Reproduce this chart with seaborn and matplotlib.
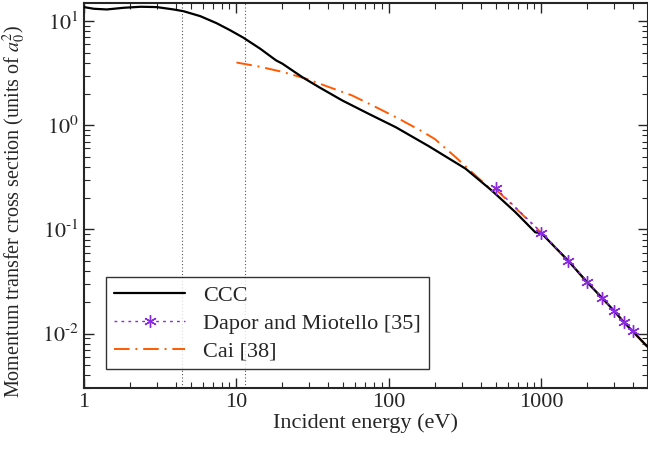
import numpy as np
import pandas as pd
import matplotlib
matplotlib.use("Agg")
import matplotlib.pyplot as plt
from matplotlib.ticker import LogLocator, NullFormatter, FixedLocator, FixedFormatter
import seaborn as sns

# CCC
ccc_e = [1, 1.16, 1.41, 1.83, 2.36, 3.0, 3.87, 4.5, 5.8, 7.4, 9.1, 11.1, 14.3, 18.2, 20, 27, 34.8,
         49.3, 73.8, 111, 183, 318, 472, 674, 911, 1000, 1500, 2000, 2500, 3000, 3500, 4000, 5000]
ccc_v = [13.7, 13.2, 13.0, 13.5, 13.8, 13.7, 13.0, 12.5, 11.2, 9.6, 8.2, 6.96, 5.46, 4.21, 3.92, 2.91, 2.33,
         1.74, 1.29, 0.96, 0.63, 0.384, 0.237, 0.147, 0.094, 0.092, 0.050, 0.031, 0.022, 0.0165, 0.0127, 0.0104, 0.0074]

# Dapor and Miotello [35]
dm_e = [500, 1000, 1500, 2000, 2500, 3000, 3500, 4000]
dm_v = [0.25, 0.0935, 0.0503, 0.0316, 0.0222, 0.0166, 0.0128, 0.0105]

# Cai [38]
cai_e = [10, 14, 20, 28.6, 40.6, 57.3, 82, 116, 164, 200, 274, 370, 450, 500, 1000, 1500, 2000, 3000, 4000, 5000]
cai_v = [4.02, 3.68, 3.27, 2.81, 2.33, 1.94, 1.50, 1.16, 0.88, 0.74, 0.495, 0.33, 0.255, 0.245, 0.093, 0.050,
         0.031, 0.0164, 0.0103, 0.0073]

vlines = [4.4, 11.3]

sns.set_style("ticks")
plt.rcParams['font.family'] = ['Liberation Serif', 'DejaVu Serif']
plt.rcParams['mathtext.fontset'] = 'stix'

fig = plt.figure(figsize=(6.48, 4.53), dpi=100)
ax = fig.add_axes([0.1296, 0.1435, 0.8704, 0.8499])

for v in vlines:
    ax.axvline(v, color='#555555', lw=0.8, ls=(0, (1, 2)), zorder=1)

sns.lineplot(x=ccc_e, y=ccc_v, ax=ax, color='black', lw=1.6, label='CCC', zorder=3)
sns.lineplot(x=dm_e, y=dm_v, ax=ax, color='#8A2BE2', lw=1.0, ls=(0, (2, 3)),
             marker=(6, 2, 0), markersize=9, markeredgewidth=1.0, markeredgecolor='#8A2BE2',
             label='Dapor and Miotello [35]', zorder=4)
sns.lineplot(x=cai_e, y=cai_v, ax=ax, color='#FF5A00', lw=1.4, ls=(0, (8, 3, 1, 3)),
             label='Cai [38]', zorder=2)

ax.set_xscale('log')
ax.set_yscale('log')
ax.set_xlim(1, 5000)
ax.set_ylim(0.003, 15)

ax.xaxis.set_major_locator(FixedLocator([1, 10, 100, 1000]))
ax.xaxis.set_major_formatter(FixedFormatter(['1', '10', '100', '1000']))
ax.xaxis.set_minor_locator(LogLocator(base=10, subs=np.arange(2, 10)))
ax.xaxis.set_minor_formatter(NullFormatter())
ax.yaxis.set_major_locator(FixedLocator([0.01, 0.1, 1, 10]))
ax.yaxis.set_major_formatter(FixedFormatter([r'$\mathrm{10^{\text{-}2}}$', r'$\mathrm{10^{\text{-}1}}$',
                                             r'$\mathrm{10^{0}}$', r'$\mathrm{10^{1}}$']))
ax.yaxis.set_minor_locator(LogLocator(base=10, subs=np.arange(2, 10)))
ax.yaxis.set_minor_formatter(NullFormatter())

ax.tick_params(which='both', direction='in', top=True, right=True, labelsize=16)
ax.tick_params(which='major', length=7, width=1.0)
ax.tick_params(which='minor', length=4, width=0.8)
for s in ax.spines.values():
    s.set_linewidth(1.5)

ax.set_xlabel('Incident energy (eV)', fontsize=16, labelpad=1)
ax.set_ylabel(r'Momentum transfer cross section (units of $a_0^2$)', fontsize=14.5, labelpad=2)
ax.yaxis.set_label_coords(-0.1, 0.46)

leg = ax.legend(loc='lower left', bbox_to_anchor=(0.02, 0.02), fontsize=16, frameon=True,
                fancybox=False, edgecolor='black', handlelength=3.2, borderpad=0.35,
                labelspacing=0.33, handletextpad=0.8)
leg.get_frame().set_linewidth(1.0)

fig.savefig('out.png', dpi=100)
